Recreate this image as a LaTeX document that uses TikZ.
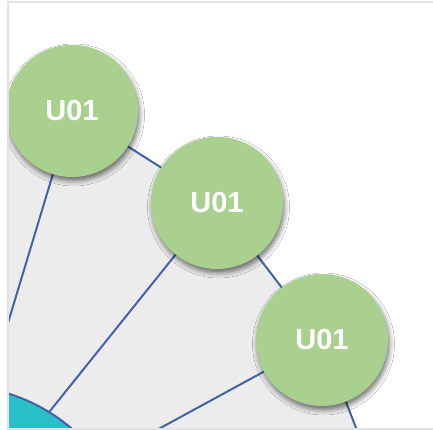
\documentclass[tikz,border=0pt]{standalone}
\usepackage{fontspec}
\setmainfont{Liberation Sans}
\usetikzlibrary{shadows.blur}
\definecolor{fanfill}{RGB}{236,236,236}
\definecolor{leaf}{RGB}{169,208,142}
\definecolor{hubteal}{RGB}{40,192,200}
\definecolor{wire}{RGB}{66,100,164}
\definecolor{framegray}{RGB}{226,226,226}
\pgfdeclarelayer{fan}
\pgfdeclarelayer{wires}
\pgfsetlayers{fan,wires,main}
\tikzset{
  leafnode/.style={circle, fill=leaf, minimum size=132pt, inner sep=0pt,
    text=white, font=\bfseries\fontsize{29}{29}\selectfont,
    blur shadow={shadow xshift=1.5pt, shadow yshift=-4pt,
      shadow blur radius=5pt, shadow opacity=55}},
  hubnode/.style={circle, fill=hubteal, draw=wire, line width=2pt,
    minimum size=359pt, inner sep=0pt},
  wireline/.style={draw=wire, line width=2pt},
}
\begin{document}
\begin{tikzpicture}[x=1pt,y=-1pt]
  \useasboundingbox (0,0) rectangle (433,430);
  % point where the spokes meet, and the two neighbouring leaves outside the window
  \coordinate (c) at (-60,548);
  \coordinate (n0) at (-100,90);
  \coordinate (n4) at (382,495);
  \begin{scope}
    \clip (8.5,3.5) rectangle (433,428);
    \node[hubnode] (hub) at (-45,565) {};
    \node[leafnode] (n1) at (72,111) {U01};
    \node[leafnode] (n2) at (217,203) {U01};
    \node[leafnode] (n3) at (322,340) {U01};
  \end{scope}
  \begin{pgfonlayer}{fan}
    \fill[white] (0,0) rectangle (433,430);
    \begin{scope}
      \clip (8.5,3.5) rectangle (433,428);
      \fill[fanfill] (c) -- (n0) -- (n1.center) -- (n2.center) -- (n3.center) -- (n4) -- cycle;
    \end{scope}
  \end{pgfonlayer}
  \begin{pgfonlayer}{wires}
    \begin{scope}
      \clip (8.5,3.5) rectangle (433,428);
      \draw[wireline] (c) -- (n1.center);
      \draw[wireline] (c) -- (n2.center);
      \draw[wireline] (c) -- (n3.center);
      \draw[wireline] (n1.center) -- (n2.center);
      \draw[wireline] (n2.center) -- (n3.center);
      \draw[wireline] (n3.center) -- (n4);
    \end{scope}
  \end{pgfonlayer}
  % window frame
  \draw[framegray, line width=2pt] (7.5,2.5) rectangle (440,429);
\end{tikzpicture}
\end{document}
